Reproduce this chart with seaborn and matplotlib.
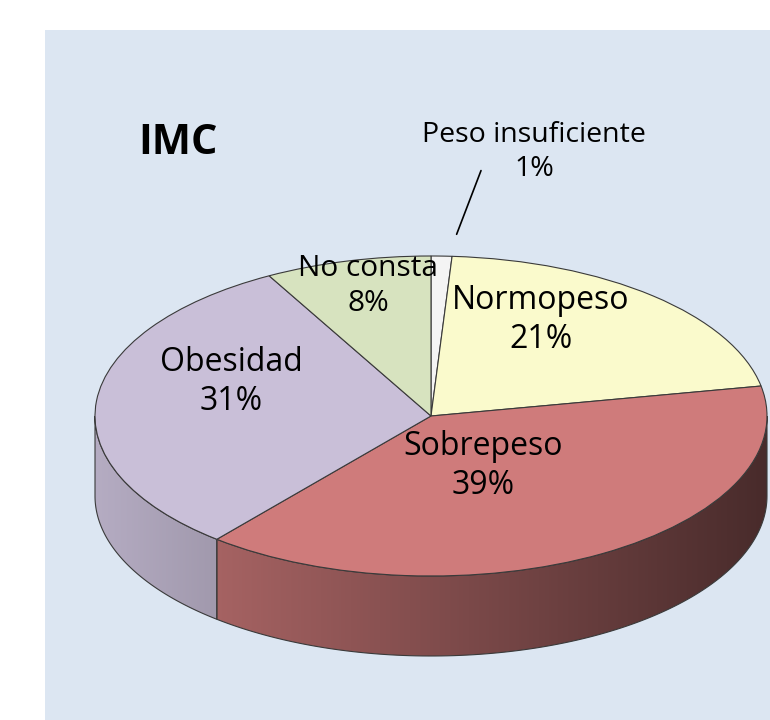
import numpy as np
import matplotlib
matplotlib.use("Agg")
import matplotlib.pyplot as plt
from matplotlib.patches import Polygon, Rectangle
import seaborn as sns

# data
categorias = ['Peso insuficiente', 'Normopeso', 'Sobrepeso', 'Obesidad', 'No consta']
porcentajes = [1, 21, 39, 31, 8]
colores = ['#F4F4F4', '#FAFACC', '#CF7B7B', '#C9BFD8', '#D7E3BF']
titulo = 'IMC'

sns.set_style('white')
plt.rcParams['font.family'] = ['Open Sans', 'DejaVu Sans']

W, H = 770, 720
fig = plt.figure(figsize=(W / 100, H / 100), dpi=100)
fig.patch.set_facecolor('white')
fig.patches.append(Rectangle((45 / W, 0), 1, 690 / H, transform=fig.transFigure,
                             facecolor='#DCE6F2', edgecolor='none', zorder=-1))

ax = fig.add_axes([0, 0, 1, 1])
ax.set_zorder(1)
ax.patch.set_alpha(0)

# pie geometry in pixels (center, radii) and depth of the 3d side
cx, cy, rx, ry = 431, 416, 336, 160
depth = 80 / ry

def to_data(px, py):
    return (px - cx) / rx, (cy - py) / ry

wedges, _ = ax.pie(porcentajes, colors=colores, startangle=90, counterclock=False,
                   wedgeprops=dict(edgecolor='#3a3a3a', linewidth=0.8))
for w in wedges:
    w.set_zorder(3)

# side of the pie: front-facing part of each wedge, with a horizontal shading
xs = np.linspace(-1, 1, 300)
shade = 0.9 - 0.55 * (xs + 1) / 2
for w, col in zip(wedges, colores):
    base = np.array(matplotlib.colors.to_rgb(col))
    t1, t2 = w.theta1, w.theta2
    for lo, hi in [(-180, 0), (180, 360)]:
        a, b = max(t1, lo), min(t2, hi)
        if b <= a:
            continue
        t = np.radians(np.linspace(a, b, 120))
        top = np.c_[np.cos(t), np.sin(t)]
        bot = np.c_[np.cos(t[::-1]), np.sin(t[::-1]) - depth]
        poly = Polygon(np.vstack([top, bot]), closed=True, facecolor='none',
                       edgecolor='#3a3a3a', linewidth=0.8, zorder=2)
        ax.add_patch(poly)
        rgb = np.clip(base[None, None, :] * shade[None, :, None], 0, 1)
        im = ax.imshow(rgb, extent=(-1, 1, -1 - depth, 0.1), aspect='auto',
                       zorder=1.5, interpolation='bilinear')
        im.set_clip_path(poly)

ax.set_aspect('auto')
ax.set_xlim(-cx / rx, (W - cx) / rx)
ax.set_ylim(-(H - cy) / ry, cy / ry)
ax.axis('off')

# labels
label_px = [(534, 152), (541, 320), (483, 466), (231, 382), (368, 286)]
sizes = [20.5, 23, 23, 23, 21.5]
for cat, pct, (px, py), fs in zip(categorias, porcentajes, label_px, sizes):
    x, y = to_data(px, py)
    ax.text(x, y, f'{cat}\n{pct}%', ha='center', va='center', fontsize=fs,
            color='black', zorder=5, linespacing=1.25)

# leader line for the tiny slice
mid = np.radians((wedges[0].theta1 + wedges[0].theta2) / 2)
ax.annotate('', xy=(1.06 * np.cos(mid) + 0.04, 1.06 * np.sin(mid) + 0.06),
            xytext=to_data(482, 168),
            arrowprops=dict(arrowstyle='-', color='black', lw=1.2), zorder=5)

fig.text(178 / W, 1 - 143 / H, titulo, ha='center', va='center', fontsize=30,
         fontweight='bold', color='black')

fig.savefig('out.png', dpi=100)
